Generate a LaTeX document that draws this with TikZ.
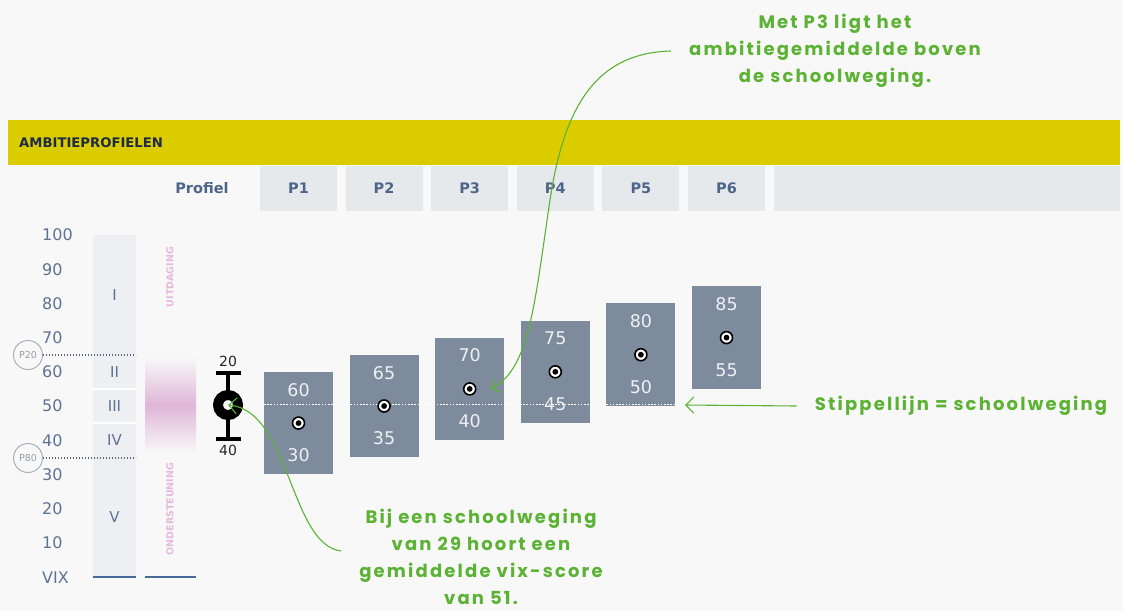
\documentclass[tikz,border=0pt]{standalone}
\usepackage{fontspec}
\setmainfont{DejaVu Sans}
\newfontfamily\handfont{Poppins}[LetterSpace=12]
\usetikzlibrary{arrows.meta,positioning}

\definecolor{achtergrond}{HTML}{F8F8F8}
\definecolor{kopgeel}{HTML}{DBCC00}
\definecolor{kopblauw}{HTML}{1E2B45}
\definecolor{celgrijs}{HTML}{E6E9EC}
\definecolor{labelblauw}{HTML}{4D6589}
\definecolor{schaalblauw}{HTML}{5E7293}
\definecolor{kolomgrijs}{HTML}{EDEFF2}
\definecolor{boxgrijs}{HTML}{7E8B9D}
\definecolor{boxtekst}{HTML}{EEF1F4}
\definecolor{notagroen}{HTML}{5CB234}
\definecolor{roze}{HTML}{DFB6D8}
\definecolor{rozetekst}{HTML}{E6B9DB}
\definecolor{basislijn}{HTML}{4A6A96}
\definecolor{stippel}{HTML}{5A6575}
\definecolor{pcirkel}{HTML}{A9B1BB}

\tikzset{
  cel/.style={fill=celgrijs, minimum width=77pt, minimum height=45pt, inner sep=0pt,
    text=labelblauw, font=\bfseries\fontsize{14.5}{16}\selectfont},
  schaal/.style={anchor=west, inner sep=0pt, text=schaalblauw, font=\fontsize{16}{18}\selectfont},
  romeins/.style={inner sep=0pt, text=schaalblauw, font=\fontsize{15}{18}\selectfont},
  pbol/.style={circle, draw=pcirkel, line width=1pt, fill=achtergrond, minimum size=29pt,
    inner sep=0pt, text=pcirkel!90!black, font=\fontsize{9.5}{11}\selectfont},
  stippellijn/.style={stippel, line width=1.4pt, dash pattern=on 1.4pt off 1.6pt},
  profielbox/.style={fill=boxgrijs, minimum width=69pt, minimum height=102.6pt, inner sep=0pt},
  boxgetal/.style={inner sep=0pt, text=boxtekst, font=\fontsize{17.5}{20}\selectfont},
  gemiddelde/.style={circle, fill=white, draw=black, line width=1.6pt, minimum size=12pt,
    inner sep=0pt, path picture={\fill[black] (path picture bounding box.center) circle (2.9pt);}},
  schoolbol/.style={circle, draw=black, fill=white, line width=10pt, minimum size=20pt, inner sep=0pt},
  notitie/.style={align=center, text=notagroen, inner xsep=18pt, inner ysep=1pt,
    font=\handfont\bfseries\fontsize{18}{27}\selectfont},
  notapijl/.style={draw=notagroen, line width=1.1pt, -{Straight Barb[length=8pt,width=16pt]}}
}

\begin{document}
\begin{tikzpicture}[x=1pt,y=-1pt]
\fill[achtergrond] (0,0) rectangle (1123,611);
\useasboundingbox (0,0) rectangle (1123,611);

% kopbalk
\node[fill=kopgeel, minimum width=1112pt, minimum height=45pt, inner sep=0pt, anchor=north west] (kop) at (8,120) {};
\node[anchor=west, inner sep=0pt, text=kopblauw, font=\bfseries\fontsize{13.2}{15}\selectfont] (titel) at (19,142.5) {AMBITIEPROFIELEN};

% profielrij
\node[inner sep=0pt, text=labelblauw, font=\bfseries\fontsize{14.5}{16}\selectfont] (profiel) at (202,188.5) {Profiel};
\foreach \i in {1,...,6} {
  \pgfmathsetmacro\cx{298.5+85.6*(\i-1)}
  \node[cel] (p\i) at (\cx,188.5) {P\i};
}
\fill[celgrijs] (774,166) rectangle (1120,211);

% schaal
\foreach \v in {10,20,...,100}
  \node[schaal] (s\v) at (42,{577-3.42*\v}) {\v};
\node[schaal] (vix) at (42,578) {VIX};

% kolom met niveaus
\fill[kolomgrijs] (93,235) rectangle (136,577);
\draw[white, line width=2pt] (93,389) -- (136,389);
\draw[white, line width=2pt] (93,423) -- (136,423);
\node[romeins] (n1) at (114.5,295) {I};
\node[romeins] (n2) at (114.5,372) {II};
\node[romeins] (n3) at (114.5,406) {III};
\node[romeins] (n4) at (114.5,440) {IV};
\node[romeins] (n5) at (114.5,517) {V};

% roze band
\shade[top color=achtergrond, bottom color=achtergrond, middle color=roze] (145,357) rectangle (196,453);
\node[rotate=90, inner sep=0pt, text=rozetekst, font=\bfseries\fontsize{9.5}{12}\selectfont] (uitdaging) at (170,277) {UITDAGING};
\node[rotate=90, inner sep=0pt, text=rozetekst, font=\bfseries\fontsize{9.5}{12}\selectfont] (ondersteuning) at (170,509) {ONDERSTEUNING};

\draw[basislijn, line width=2pt] (93,577) -- (136,577);
\draw[basislijn, line width=2pt] (145,577) -- (196,577);

% P20 en P80
\coordinate (p20eind) at (136,355);
\coordinate (p80eind) at (136,458);
\node[pbol] (p20) at (28,355) {P20};
\node[pbol] (p80) at (28,458) {P80};
\draw[stippellijn] (p20) -- (p20eind);
\draw[stippellijn] (p80) -- (p80eind);

% schoolweging
\coordinate (bartop) at (228,373);
\coordinate (barbot) at (228,439);
\draw[line width=3.5pt] (bartop) -- (barbot);
\draw[line width=3.5pt] (216,373) -- (241,373);
\draw[line width=3.5pt] (216,439) -- (241,439);
\node[schoolbol] (sw) at (228,405) {};
\node[inner sep=0pt, text=black!85, font=\fontsize{14}{16}\selectfont] (lab20) at (228,361) {20};
\node[inner sep=0pt, text=black!85, font=\fontsize{14}{16}\selectfont] (lab40) at (228,450) {40};

% profielen
\foreach \i/\lo/\hi in {1/30/60,2/35/65,3/40/70,4/45/75,5/50/80,6/55/85} {
  \pgfmathsetmacro\cx{298.5+85.6*(\i-1)}
  \pgfmathsetmacro\ym{577-3.42*(\lo+\hi)/2}
  \node[profielbox] (box\i) at (\cx,\ym) {};
}
\draw[white, line width=1.8pt, dash pattern=on 1.6pt off 1.6pt] (264,404.5) -- (676,404.5);
\foreach \i/\lo/\hi in {1/30/60,2/35/65,3/40/70,4/45/75,5/50/80,6/55/85} {
  \pgfmathsetmacro\cx{298.5+85.6*(\i-1)}
  \pgfmathsetmacro\yt{577-3.42*\hi}
  \pgfmathsetmacro\yb{577-3.42*\lo}
  \node[boxgetal] (hoog\i) at (\cx,\yt+18) {\hi};
  \node[boxgetal] (laag\i) at (\cx,\yb-19) {\lo};
  \node[gemiddelde] (gem\i) at (\cx,{(\yt+\yb)/2}) {};
}

% notities
\node[notitie] (nota1) at (835,51) {Met P3 ligt het\\ambitiegemiddelde boven\\de schoolweging.};
\node[notitie] (nota2) at (961,406) {Stippellijn = schoolweging};
\node[notitie] (nota3) at (481,557) {Bij een schoolweging\\van 29 hoort een\\gemiddelde vix-score\\van 51.};
\coordinate (stippeleind) at (685,405);

\draw[notapijl] (nota1.west) .. controls (600,53) and (565,100) .. (550,200)
  .. controls (535,300) and (530,370) .. ([xshift=14pt]gem3.east);
\draw[notapijl] (nota2.west) -- (stippeleind);
\draw[notapijl] ([yshift=6pt]nota3.west) .. controls (290,545) and (290,410) .. (sw.center);
\end{tikzpicture}
\end{document}
